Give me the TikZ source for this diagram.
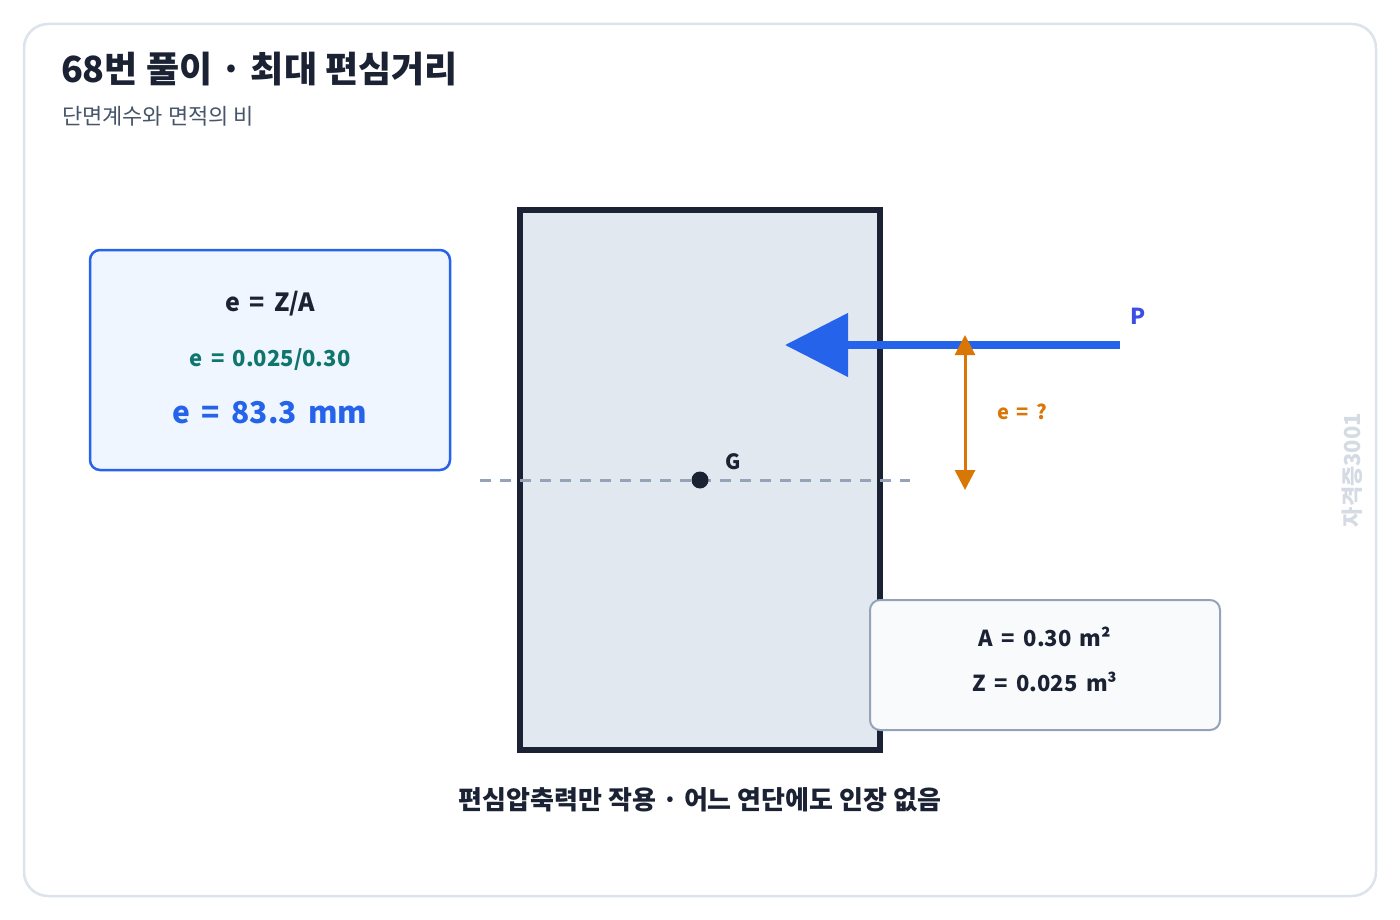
\documentclass[tikz,border=0pt]{standalone}
\usepackage{fontspec}
\setmainfont{Noto Sans CJK KR}
\usetikzlibrary{arrows.meta}
\definecolor{ink}{HTML}{1A2234}
\definecolor{framecol}{HTML}{DCE3EC}
\definecolor{subgray}{HTML}{475569}
\definecolor{secfill}{HTML}{E2E8F0}
\definecolor{pblue}{HTML}{2563EB}
\definecolor{plabel}{HTML}{3B4FE4}
\definecolor{boxfill}{HTML}{EFF6FF}
\definecolor{teal}{HTML}{0F766E}
\definecolor{orangec}{HTML}{D97706}
\definecolor{dashc}{HTML}{94A3B8}
\definecolor{infofill}{HTML}{F8FAFC}
\definecolor{wmark}{HTML}{D5DBE3}
\newcommand{\fs}[1]{\fontsize{#1}{#1}\selectfont}
\newcommand{\eqs}{\hspace{0.38em}=\hspace{0.38em}}
\newcommand{\wsp}{\hspace{0.38em}}
\tikzset{
  txt/.style={inner sep=0pt, outer sep=0pt},
  infobox/.style={draw=dashc, fill=infofill, line width=2, rounded corners=10, minimum width=350, minimum height=130},
  formbox/.style={draw=pblue, fill=boxfill, line width=2.5, rounded corners=10, minimum width=360, minimum height=220},
  secbox/.style={draw=ink, fill=secfill, line width=6, minimum width=360, minimum height=540},
}
\begin{document}
\begin{tikzpicture}[x=1pt,y=-1pt]
\useasboundingbox (0,0) rectangle (1400,920);
\fill[white] (0,0) rectangle (1400,920);
\draw[framecol, line width=2.5, rounded corners=24] (24,24) rectangle (1376,896);

\node[txt, anchor=west, text=ink] (title) at (61,69) {\fs{36}\bfseries 68번 풀이 · 최대 편심거리};
\node[txt, anchor=west, text=subgray] (sub) at (62,116) {\fs{22}단면계수와 면적의 비};

\node[secbox] (sec) at (700,480) {};

\coordinate (dl) at (480,480);
\coordinate (dr) at (910,480);
\draw[dashc, line width=3, dash pattern=on 11 off 9] (dl) -- (dr);
\node[circle, fill=ink, minimum size=17, inner sep=0pt] (g) at (700,480) {};
\node[txt, text=ink] (glab) at (733,462) {\fs{21}\bfseries G};

\node[formbox] (fbox) at (270,360) {};
\node[txt, text=ink] (f1) at (270,304) {\fs{25}\bfseries e\eqs Z/A};
\node[txt, text=teal] (f2) at (270,360) {\fs{22}\bfseries e\eqs 0.025/0.30};
\node[txt, text=pblue] (f3) at (270,413) {\fs{30}\bfseries e\eqs 83.3\wsp mm};

\coordinate (ptail) at (1120,345);
\coordinate (ptip) at (785,345);
\draw[pblue, line width=8, -{Triangle[length=63pt,width=62pt]}] (ptail) -- (ptip);
\node[txt, text=plabel] (plab) at (1138,316) {\fs{22}\bfseries P};

\coordinate (etop) at (965,335);
\coordinate (ebot) at (965,490);
\draw[orangec, line width=3, {Triangle[length=20pt,width=20pt]}-{Triangle[length=20pt,width=20pt]}] (etop) -- (ebot);
\node[txt, text=orangec] (elab) at (1022,412) {\fs{20}\bfseries e\eqs ?};

\node[infobox] (info) at (1045,665) {};
\node[txt, text=ink] (i1) at (1045,637) {\fs{22}\bfseries A\eqs 0.30\wsp m²};
\node[txt, text=ink] (i2) at (1045,682) {\fs{22}\bfseries Z\eqs 0.025\wsp m³};

\node[txt, text=ink] (foot) at (700,800) {\fs{26}\bfseries 편심압축력만 작용 · 어느 연단에도 인장 없음};

\node[txt, text=wmark, rotate=90] (wm) at (1352,470) {\fs{22}\bfseries 자격증3001};
\end{tikzpicture}
\end{document}
